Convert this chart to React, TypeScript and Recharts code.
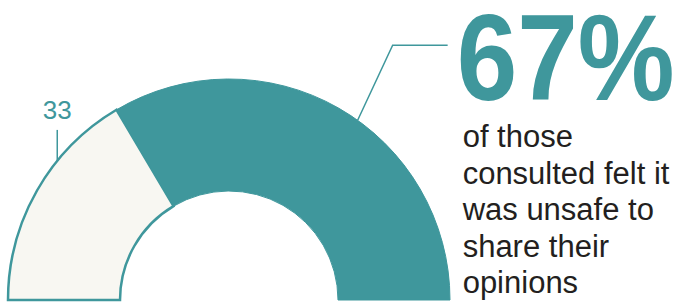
import { PieChart, Pie, Cell } from 'recharts'

const categories = ['safe', 'unsafe']
const values = [33, 67]
const sideLabel = '33'
const headline = '67%'
const captionLines = ['of those', 'consulted felt it', 'was unsafe to', 'share their', 'opinions']

const TEAL = '#3f979c'
const CREAM = '#f8f7f2'
const INK = '#231f20'

const data = categories.map((name, i) => ({ name, value: values[i] }))

const RAD = Math.PI / 180

function renderLabel(props: any) {
  const { cx, cy, outerRadius, index } = props
  if (index === 0) {
    // small value label with a short vertical tick above the arc
    const a = 141 * RAD
    const x = cx + outerRadius * Math.cos(a)
    const y = cy - outerRadius * Math.sin(a)
    return (
      <g>
        <line x1={x} y1={y} x2={x} y2={y - 31} stroke={TEAL} strokeWidth={1.5} />
        <text x={x} y={y - 42} textAnchor="middle" fill={TEAL} fontSize={26} fontFamily="Liberation Sans, sans-serif">
          {sideLabel}
        </text>
      </g>
    )
  }
  const a = 54.4 * RAD
  const x = cx + outerRadius * Math.cos(a)
  const y = cy - outerRadius * Math.sin(a)
  const kx = x + 35
  const ky = y - 75
  const tx = kx + 64
  return (
    <g>
      <polyline points={`${x},${y} ${kx},${ky} ${kx + 55},${ky}`} fill="none" stroke={TEAL} strokeWidth={1.5} />
      <text
        x={tx}
        y={ky + 55}
        fill={TEAL}
        fontSize={122}
        fontWeight="bold"
        textLength={218}
        lengthAdjust="spacingAndGlyphs"
        fontFamily="Liberation Sans, sans-serif"
      >
        {headline}
      </text>
      {captionLines.map((line, i) => (
        <text key={line} x={tx + 6} y={ky + 102 + i * 36.5} fill={INK} fontSize={31} fontFamily="Liberation Sans, sans-serif">
          {line}
        </text>
      ))}
    </g>
  )
}

export default function App() {
  return (
    <div style={{ position: 'absolute', left: 0, top: 0, width: 680, height: 304, background: '#fff' }}>
      <PieChart width={680} height={304} margin={{ top: 0, right: 0, bottom: 0, left: 0 }}>
        <Pie
          data={data}
          dataKey="value"
          nameKey="name"
          cx={229}
          cy={300}
          startAngle={180}
          endAngle={0}
          innerRadius={109}
          outerRadius={221}
          labelLine={false}
          label={renderLabel}
          isAnimationActive={false}
        >
          <Cell fill={CREAM} stroke={TEAL} strokeWidth={2.5} />
          <Cell fill={TEAL} stroke={TEAL} strokeWidth={1} />
        </Pie>
      </PieChart>
    </div>
  )
}
